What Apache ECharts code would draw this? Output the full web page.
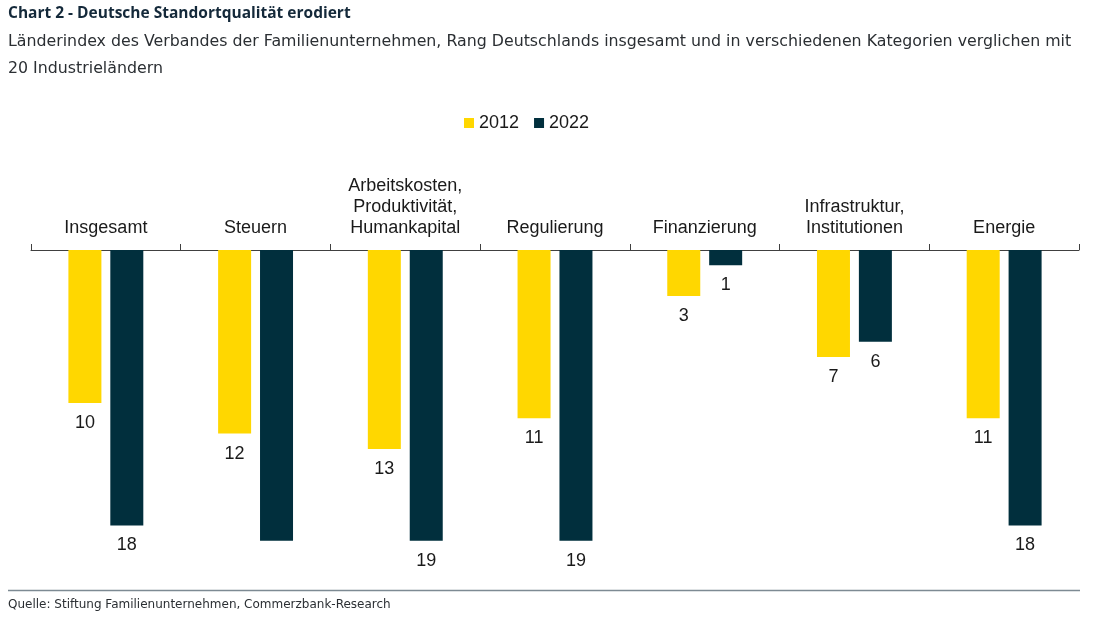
<!DOCTYPE html>
<html>
<head>
<meta charset="utf-8">
<script src="https://cdn.jsdelivr.net/npm/echarts@6/dist/echarts.min.js"></script>
<style>
html,body{margin:0;padding:0;background:#fff;}
#chart{width:1096px;height:618px;}
</style>
</head>
<body>
<div id="chart"></div>
<script>
const categories = ['Insgesamt', 'Steuern', 'Arbeitskosten,\nProduktivität,\nHumankapital', 'Regulierung', 'Finanzierung', 'Infrastruktur,\nInstitutionen', 'Energie'];
const rank2012 = [10, 12, 13, 11, 3, 7, 11];
const rank2022 = [18, 19, 19, 19, 1, 6, 18];
const unlabeled2022 = ['Steuern'];
const seriesNames = ['2012', '2022'];

const chart = echarts.init(document.getElementById('chart'), null, {renderer: 'canvas'});
const labelFont = 'Liberation Sans, Arial, sans-serif';
const titleFont = 'Open Sans, Noto Sans, sans-serif';
const textFont = 'DejaVu Sans, sans-serif';

const option = {
  backgroundColor: '#ffffff',
  animation: false,
  title: [
    {
      text: 'Chart 2 - Deutsche Standortqualität erodiert',
      left: 8, top: 4, padding: 0,
      textStyle: {fontFamily: titleFont, fontSize: 15.5, fontWeight: 'bold', color: '#14293a', lineHeight: 20}
    },
    {
      text: 'Länderindex des Verbandes der Familienunternehmen, Rang Deutschlands insgesamt und in verschiedenen Kategorien verglichen mit\n20 Industrieländern',
      left: 8, top: 28, padding: 0,
      textStyle: {fontFamily: textFont, fontSize: 15.8, fontWeight: 'normal', color: '#2b2f33', lineHeight: 27}
    },
    {
      text: 'Quelle: Stiftung Familienunternehmen, Commerzbank-Research',
      left: 8, top: 597, padding: 0,
      textStyle: {fontFamily: textFont, fontSize: 12, fontWeight: 'normal', color: '#2b2f33', lineHeight: 16}
    }
  ],
  legend: {
    data: seriesNames,
    left: 464, top: 114, padding: 0,
    itemWidth: 10, itemHeight: 10, itemGap: 15,
    icon: 'rect',
    textStyle: {fontFamily: labelFont, fontSize: 18, color: '#1a1a1a'}
  },
  grid: {left: 31, right: 17, top: 250, bottom: 62},
  xAxis: {
    type: 'category',
    position: 'top',
    data: categories,
    axisLine: {show: true, lineStyle: {color: '#404040', width: 1}},
    axisTick: {show: true, length: 6, lineStyle: {color: '#404040'}},
    axisLabel: {fontFamily: labelFont, fontSize: 18, color: '#1a1a1a', lineHeight: 21, margin: 11, interval: 0}
  },
  yAxis: {
    type: 'value',
    inverse: true,
    min: 0, max: 20,
    show: false,
    splitLine: {show: false}
  },
  series: [
    {
      name: seriesNames[0],
      type: 'bar',
      data: rank2012,
      barWidth: 33,
      barGap: '27%',
      itemStyle: {color: '#FFD700'},
      label: {show: true, position: 'bottom', distance: 11, fontFamily: labelFont, fontSize: 18, color: '#1a1a1a'}
    },
    {
      name: seriesNames[1],
      type: 'bar',
      data: rank2022.map((v, i) => unlabeled2022.includes(categories[i]) ? {value: v, label: {show: false}} : v),
      barWidth: 33,
      barGap: '27%',
      itemStyle: {color: '#012F3D'},
      label: {show: true, position: 'bottom', distance: 11, fontFamily: labelFont, fontSize: 18, color: '#1a1a1a'}
    }
  ],
  graphic: [
    {
      type: 'line',
      shape: {x1: 8, y1: 590.5, x2: 1080, y2: 590.5},
      style: {stroke: '#7d8a93', lineWidth: 1.5}
    }
  ]
};
chart.setOption(option);
</script>
</body>
</html>
